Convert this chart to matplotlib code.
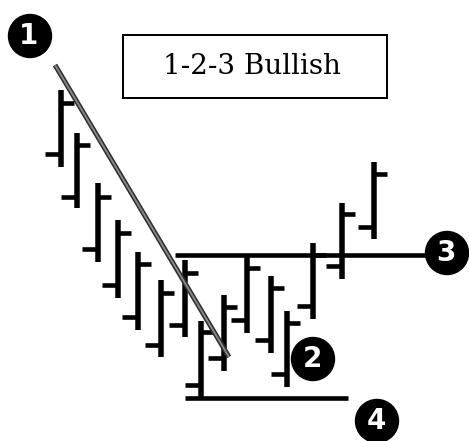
import matplotlib
matplotlib.use("Agg")
import matplotlib.pyplot as plt
from matplotlib.patches import Circle, Rectangle

# ---- data (y values are "price" = 441 - pixel row) ----
H = 441
bar_x  = [61, 77, 98, 118, 138, 161, 185, 201, 224, 247, 271, 287, 313, 342, 374]
highs  = [H - v for v in [90, 133, 183, 220, 252, 280, 260, 321, 295, 255, 276, 311, 243, 203, 162]]
lows   = [H - v for v in [167, 208, 262, 298, 330, 357, 337, 397, 371, 333, 353, 387, 319, 279, 239]]
opens  = [H - v for v in [154, 197, 249, 285, 317, 345, 325, 385, 358, 320, 340, 374, 306, 266, 227]]
closes = [H - v for v in [103, 145, 197, 233, 264, 293, 273, 332, 307, 268, 288, 323, 255, 214, 174]]

trend_x = [55, 229]
trend_y = [H - 65, H - 357]
line3_x = [175, 432]
line3_y = H - 255
line4_x = [185, 348]
line4_y = H - 398

point_labels = ["1", "2", "3", "4"]
point_x = [30, 313, 447, 377]
point_y = [H - 36, H - 359, H - 253, H - 421]

title = "1-2-3 Bullish"

# ---- figure ----
fig = plt.figure(figsize=(4.69, 4.41), dpi=100)
ax = fig.add_axes([0, 0, 1, 1])
ax.set_xlim(0, 469)
ax.set_ylim(0, 441)
ax.axis("off")

px = 72 / 100  # points per pixel
left_len, right_len = 16, 13
for x, hi, lo, o, c in zip(bar_x, highs, lows, opens, closes):
    ax.plot([x, x], [lo, hi], color="black", lw=5.5 * px, solid_capstyle="butt", zorder=3)
    ax.plot([x - left_len, x], [o, o], color="black", lw=4.6 * px, solid_capstyle="butt", zorder=3)
    ax.plot([x, x + right_len], [c, c], color="black", lw=4.6 * px, solid_capstyle="butt", zorder=3)

ax.plot(line3_x, [line3_y, line3_y], color="black", lw=4.6 * px, solid_capstyle="butt", zorder=2)
ax.plot(line4_x, [line4_y, line4_y], color="black", lw=4.6 * px, solid_capstyle="butt", zorder=2)

# trend line: dark edges, grey core
ax.plot(trend_x, trend_y, color="#303030", lw=5 * px, solid_capstyle="butt", zorder=4)
ax.plot(trend_x, trend_y, color="#8a8a8a", lw=1.8 * px, solid_capstyle="butt", zorder=5)

for lab, cx, cy in zip(point_labels, point_x, point_y):
    ax.add_patch(Circle((cx, cy), 21.5, facecolor="black", edgecolor="black", zorder=6))
    ax.text(cx - 1, cy, lab, color="white", fontsize=20, fontweight="bold",
            family="DejaVu Sans", ha="center", va="center", zorder=7)

ax.add_patch(Rectangle((123, H - 98), 264, 63, facecolor="white", edgecolor="black",
                       lw=2 * px, zorder=6))
ax.text(252, H - 67, title, fontsize=20, family="DejaVu Serif",
        ha="center", va="center", zorder=7)

fig.savefig("out.png", dpi=100, facecolor="white")
